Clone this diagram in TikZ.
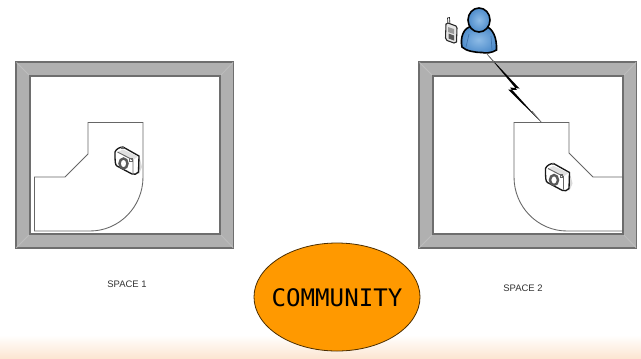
\documentclass[tikz,border=0pt]{standalone}
\usepackage{fontspec}
\setmainfont{Liberation Sans}
\newfontfamily\monof{DejaVu Sans Mono}
\definecolor{wall}{HTML}{B0B0B0}
\definecolor{wallline}{HTML}{6E6E6E}
\definecolor{cornerc}{HTML}{BDBDBD}
\definecolor{ora}{HTML}{FF9900}
\definecolor{band}{HTML}{FCE6D2}
\definecolor{bluein}{HTML}{8DBBE6}
\definecolor{blueout}{HTML}{4E8CCB}
\definecolor{bluedark}{HTML}{3F74AD}
\tikzset{
  wallfill/.style={fill=wall,draw=wallline,line width=0.9pt},
  innerwall/.style={fill=white,draw=wallline,line width=0.9pt},
  mitre/.style={draw=cornerc,line width=0.6pt},
  zone/.style={draw=black!60,line width=0.65pt},
  spacelabel/.style={font=\fontsize{7.1}{8.5}\selectfont,text=black!80,inner sep=0pt},
  commtext/.style={inner sep=0pt,font=\monof\fontsize{18.1}{20}\selectfont,text=black},
  pics/camicon/.style={code={
    \fill[black!15] (2,10) -- (12,13) -- (15,6) -- (13,-2) -- cycle;
    \draw[fill=white,draw=black!90,line width=1pt,line join=round]
      (-12,-9) .. controls (-11,-12) and (-7,-14) .. (-4,-14)
      -- (12,-5) -- (11.5,11) .. controls (10,13) and (7,14) .. (5,13)
      -- (-10,5) .. controls (-12,4) and (-12,0) .. (-12,-9) -- cycle;
    \fill[black!12] (-9.5,-9) -- (-4,-11.5) -- (11,-4.5) -- (6,-1) -- cycle;
    \draw[draw=black!60,line width=0.7pt] (-9.5,-9) -- (6,-1) -- (6,12);
    \draw[draw=black!65,line width=1.8pt] (-3.5,2.5) ellipse [x radius=4,y radius=5];
    \draw[draw=black!60,line width=0.5pt] (2.5,-3) rectangle (5,0);
    \fill[black!60] (-6,-14.5) rectangle (-3.5,-12.5);
  }}
}
\begin{document}
\begin{tikzpicture}[x=0.75pt,y=-0.75pt]
\useasboundingbox (0,0) rectangle (641,358);
\fill[white] (0,0) rectangle (641,358);
\shade[top color=white,bottom color=band] (0,335) rectangle (641,358);

% Space 1
\draw[wallfill] (16,62) rectangle (233.5,248);
\draw[mitre] (16.5,62.5) -- (30,76) (233,62.5) -- (220,76) (16.5,247.5) -- (30,234) (233,247.5) -- (220,234);
\draw[innerwall] (30,76) rectangle (220,234);
\draw[zone] (34.5,231) -- (34.5,177) -- (65,177) -- (88,154) -- (88,122.5) -- (143,122.5) -- (143,177)
  .. controls (143,207) and (119,231) .. (90,231) -- cycle;
\pic at (127,161) {camicon};
\node[spacelabel] (label1) at (127,284) {SPACE 1};

% Space 2
\draw[wallfill] (419,62) rectangle (636.5,248);
\draw[mitre] (419.5,62.5) -- (433,76) (636,62.5) -- (623,76) (419.5,247.5) -- (433,234) (636,247.5) -- (623,234);
\draw[innerwall] (433,76) rectangle (623,234);
\draw[zone] (623,231) -- (623,177) -- (593,177) -- (569,153) -- (569,122.5) -- (514,122.5) -- (514,177)
  .. controls (514,207) and (538,231) .. (567,231) -- cycle;
\pic at (557.5,177.5) {camicon};
\node[spacelabel] (label2) at (523,288) {SPACE 2};

% Wireless link
\coordinate (userend) at (487,54);
\coordinate (zoneend) at (541.5,122.5);
\fill[black] (userend) -- (519.5,88.5) -- (510,87.5) -- (zoneend) -- (508,89.5) -- (517,90) -- cycle;
\draw[black!55,line width=0.5pt] (userend) -- (495,63.5) (zoneend) -- (532,111);

% Phone
\draw[fill=white,draw=black!85,line width=0.5pt] (447.5,18) -- (449.5,17.5) -- (450,25) -- (448,25) -- cycle;
\draw[fill=black!10,draw=black!85,line width=0.8pt,line join=round]
  (446,24) -- (448,23) -- (456,26) -- (457,28) -- (456.5,42) -- (454,43) -- (447,40.5) -- (445.5,38) -- cycle;
\fill[black!40] (448,27) -- (454,29) -- (454,34) -- (448,32) -- cycle;
\fill[black!65] (448.5,33.5) -- (454,35.5) -- (454,40.5) -- (448.5,38.5) -- cycle;

% Person
\shade[inner color=bluein,outer color=blueout,draw=black,line width=1.2pt]
  (462,47) .. controls (460,38) and (463,27) .. (473,26)
  -- (485,26) .. controls (493,28) and (497,38) .. (496.5,50)
  .. controls (492,53) and (485,53.5) .. (482,52.5)
  .. controls (475,52.5) and (466,51) .. (462,47) -- cycle;
\draw[bluedark,line width=0.5pt] (469,34) -- (466,47) (491,36) -- (492,50);
\shade[inner color=bluein,outer color=blueout,draw=black,line width=1.2pt]
  (479,20) ellipse [x radius=11,y radius=12];

% Community
\draw[draw=black!70!ora,line width=0.6pt,fill=ora] (337,297) ellipse [x radius=83,y radius=54];
\node[commtext] (community) at (337,298) {COMMUNITY};
\end{tikzpicture}
\end{document}
